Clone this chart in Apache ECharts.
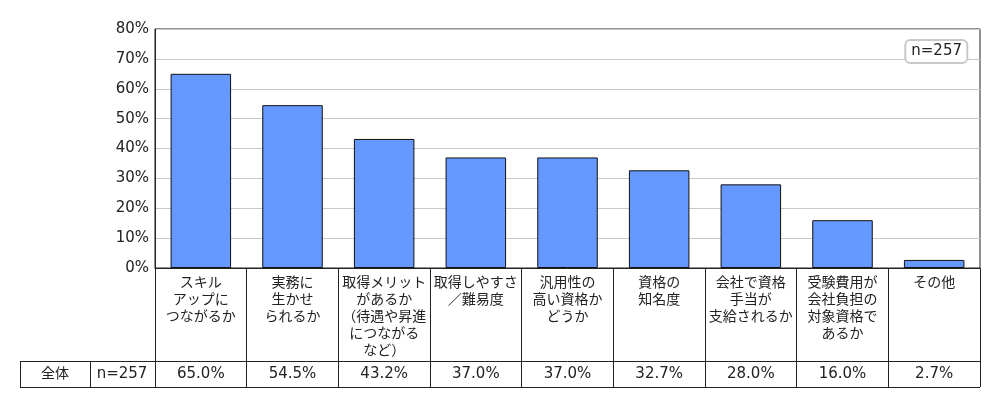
<!DOCTYPE html>
<html>
<head>
<meta charset="utf-8">
<script src="https://cdn.jsdelivr.net/npm/echarts@6/dist/echarts.min.js"></script>
<style>
  html, body { margin: 0; padding: 0; background: #fff; }
  #chart { width: 1000px; height: 410px; }
</style>
</head>
<body>
<div id="chart"></div>
<script>
var categories = [
    'スキル\nアップに\nつながるか',
    '実務に\n生かせ\nられるか',
    '取得メリット\nがあるか\n（待遇や昇進\nにつながる\nなど）',
    '取得しやすさ\n／難易度',
    '汎用性の\n高い資格か\nどうか',
    '資格の\n知名度',
    '会社で資格\n手当が\n支給されるか',
    '受験費用が\n会社負担の\n対象資格で\nあるか',
    'その他'
];
var values = [65.0, 54.5, 43.2, 37.0, 37.0, 32.7, 28.0, 16.0, 2.7];
var rowLabel = '全体';
var sampleLabel = 'n=257';
var yTicks = [0, 10, 20, 30, 40, 50, 60, 70, 80];

var font = '"DejaVu Sans", "Noto Sans CJK JP", sans-serif';
var ink = '#222';

var myChart = echarts.init(document.getElementById('chart'));

option = {
    animation: false,
    textStyle: { fontFamily: font, color: ink },
    title: {
        text: sampleLabel,
        right: 32,
        top: 40,
        padding: [4, 6, 4, 6],
        borderColor: '#c8c8c8',
        borderWidth: 2,
        borderRadius: 5,
        backgroundColor: '#fff',
        textStyle: { fontFamily: font, fontSize: 15, fontWeight: 'normal', color: ink }
    },
    grid: {
        left: 155,
        right: 20,
        top: 29,
        bottom: 142,
        show: true,
        borderColor: ink,
        borderWidth: 1
    },
    xAxis: [{
        type: 'category',
        data: categories,
        axisLine: { show: true, lineStyle: { color: ink, width: 1 } },
        axisTick: { show: true, interval: 0, length: 119, lineStyle: { color: ink, width: 1 } },
        axisLabel: {
            interval: 0,
            margin: 7,
            fontSize: 14,
            lineHeight: 17,
            color: ink,
            fontFamily: font,
            align: 'center',
            verticalAlign: 'top'
        }
    }, {
        type: 'category',
        data: categories,
        position: 'bottom',
        offset: 93,
        axisLine: { show: true, lineStyle: { color: ink, width: 1 } },
        axisTick: { show: false },
        axisLabel: {
            interval: 0,
            margin: 6,
            fontSize: 15,
            color: ink,
            fontFamily: font,
            formatter: function (v, i) {
                return values[i].toFixed(1) + '%';
            }
        }
    }],
    yAxis: {
        type: 'value',
        min: yTicks[0],
        max: yTicks[yTicks.length - 1],
        interval: 10,
        axisLine: { show: true, lineStyle: { color: ink } },
        axisTick: { show: false },
        splitLine: { lineStyle: { color: '#c8c8c8', width: 1 } },
        axisLabel: {
            margin: 6,
            fontSize: 15,
            color: ink,
            fontFamily: font,
            formatter: '{value}%'
        }
    },
    series: [{
        type: 'bar',
        data: values,
        barCategoryGap: '34%',
        itemStyle: { color: '#6699ff', borderColor: '#111', borderWidth: 1 }
    }],
    graphic: [
        // left cells of the bottom row
        { type: 'line', shape: { x1: 20, y1: 361.5, x2: 155, y2: 361.5 }, style: { stroke: ink, lineWidth: 1 } },
        { type: 'line', shape: { x1: 20, y1: 387.5, x2: 980, y2: 387.5 }, style: { stroke: ink, lineWidth: 1 } },
        { type: 'line', shape: { x1: 20.5, y1: 361, x2: 20.5, y2: 388 }, style: { stroke: ink, lineWidth: 1 } },
        { type: 'line', shape: { x1: 90.5, y1: 361, x2: 90.5, y2: 388 }, style: { stroke: ink, lineWidth: 1 } },
        { type: 'line', shape: { x1: 155.5, y1: 361, x2: 155.5, y2: 388 }, style: { stroke: ink, lineWidth: 1 } },
        { type: 'text', x: 55, y: 374, style: { text: rowLabel, font: '14px ' + font, fill: ink, textAlign: 'center', textVerticalAlign: 'middle' } },
        { type: 'text', x: 122, y: 374, style: { text: sampleLabel, font: '15px ' + font, fill: ink, textAlign: 'center', textVerticalAlign: 'middle' } }
    ]
};

myChart.setOption(option);
</script>
</body>
</html>
